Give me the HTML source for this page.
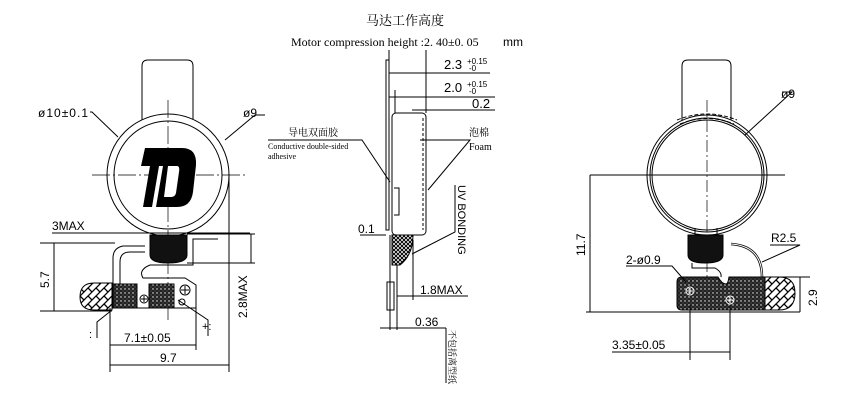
<!DOCTYPE html>
<html><head><meta charset="utf-8"><style>
html,body{margin:0;padding:0;background:#fff;}
svg{display:block;}
text{font-family:"Liberation Sans","Noto Sans CJK SC",sans-serif;fill:#000;}
.s{font-family:"Liberation Serif","Noto Serif CJK SC",serif;}
</style></head><body>
<svg width="850" height="402" viewBox="0 0 850 402" xmlns="http://www.w3.org/2000/svg">
<defs>
<pattern id="dots" width="4" height="4" patternUnits="userSpaceOnUse">
<rect width="4" height="4" fill="#222"/><circle cx="1" cy="1" r="0.7" fill="#fff"/><circle cx="3" cy="3" r="0.5" fill="#888"/>
</pattern>
<pattern id="hatch" width="8" height="8" patternUnits="userSpaceOnUse">
<rect width="8" height="8" fill="#fff"/><path d="M0,8 L8,0 M-2,2 L2,-2 M6,10 L10,6" stroke="#000" stroke-width="1.3"/><path d="M0,0 L4,4" stroke="#000" stroke-width="1.3"/>
</pattern>
<pattern id="xh" width="4" height="4" patternUnits="userSpaceOnUse">
<rect width="4" height="4" fill="#fff"/><path d="M0,4 L4,0 M0,0 L4,4" stroke="#000" stroke-width="1"/>
</pattern>
</defs>
<g fill="none" stroke="#000" stroke-width="1">
<!-- LEFT VIEW -->
<path d="M142,122 L142,66 Q142,60 148,60 L187,60 Q193,60 193,66 L193,122"/>
<circle cx="168" cy="175" r="61" fill="#fff"/>
<circle cx="168" cy="175" r="54"/>
<path d="M92,175 L248,175 M168,100 L168,320" stroke-dasharray="18,3,2,3" stroke-width="0.7"/>
<path d="M150,235 L187,235 L187,255 Q187,263 168,263 Q150,263 150,255 Z" fill="#111"/>
<path d="M113,308 L113,258 Q113,248 123,246 L145,246 M120,300 L120,262 Q120,252 130,252 L145,252" />
<path d="M113,308 L196,308 L196,285 L185,278 L143,278 Q138,270 150,265 L193,265 L193,239 L218,239"/>
<rect x="113" y="284" width="24" height="24" fill="url(#dots)"/>
<rect x="149" y="284" width="25" height="24" fill="url(#dots)"/>
<circle cx="144" cy="299" r="4"/><path d="M141,299h6M144,296v6"/>
<circle cx="185" cy="290" r="5"/><path d="M181,290h8M185,286v8"/>
<circle cx="182" cy="302" r="3"/>
<path d="M80,297 Q80,283 94,283 L112,283 L112,310 L94,310 Q80,310 80,297 Z" fill="url(#hatch)"/>
<!-- left dims -->
<path d="M52,233 L250,233 M40,243 L115,243 M40,311 L112,311 M54,243 L54,311"/>
<path d="M187,234 L255,234 M187,263 L255,263 M251,234 L251,263"/>
<path d="M229,175 L229,372 M110,308 L110,372 M196,300 L196,350 M110,345 L196,345 M110,365 L229,365"/>
<path d="M90,112 L92,112 L118,137 M225,140 L255,115 L265,115"/>
<path d="M112,310 L97,322 L97,338 M178,300 L208,320 L208,336"/>
</g>
<text x="38" y="117" font-size="12" textLength="50">ø10±0.1</text>
<text x="243" y="117" font-size="12">ø9</text>
<text x="52" y="230" font-size="12">3MAX</text>
<text x="49" y="288" font-size="12" transform="rotate(-90 49 288)">5.7</text>
<text x="247" y="318" font-size="12" transform="rotate(-90 247 318)">2.8MAX</text>
<text x="124" y="342" font-size="12">7.1±0.05</text>
<text x="160" y="362" font-size="12">9.7</text>
<text x="89" y="338" font-size="11">:</text>
<text x="202" y="330" font-size="11">+:</text>
<!-- D logo -->
<path d="M145,148 L182,148 Q197,148 196,165 L193,192 Q191,207 177,207 L143,207 L150,166 L141,166 Z" fill="#000"/>
<path d="M159,166 L163,166 L156,207 L152,207 Z" fill="#fff"/>
<path d="M168,166 L177,166 Q180,166 179,172 L176,193 Q175,197 171,197 L164,197 Z" fill="#fff"/>

<!-- MIDDLE VIEW -->
<g fill="none" stroke="#000" stroke-width="1">
<path d="M386,60 L386,230 L389,230 L389,60 Z"/>
<rect x="392" y="113" width="34" height="122" rx="4" fill="#fff"/>
<path d="M423,118 L423,230" stroke-dasharray="3,2"/>
<path d="M394,188 L399,188 L399,215 L394,215"/>
<path d="M389,50 L389,75 M426,50 L426,113 M389,73 L490,73 M389,97 L495,97 M395,90 L395,113 M412,110 L495,110 M426,97 L426,113"/>
<path d="M392,235 L413,235 Q413,255 400,265 L392,265 Z" fill="url(#xh)"/>
<path d="M390,235 L390,330 M397,265 L397,330 M387,282 L394,282 L394,310 L387,310 Z"/>
<path d="M413,240 L413,300 M397,296 L468,296 M380,328 L446,328 M446,328 L446,383"/>
<path d="M360,235 L386,235 M268,140 L362,140 L390,182 M420,140 L470,140 L428,190"/>
<path d="M455,185 L455,232 L412,254"/>
</g>
<text x="405" y="25" font-size="13" class="s" text-anchor="middle">马达工作高度</text>
<text x="291" y="46" font-size="12" class="s">Motor compression height :2. 40±0. 05</text>
<text x="503" y="46" font-size="12">mm</text>
<text x="444" y="69" font-size="13">2.3</text><text x="467" y="64" font-size="8">+0.15</text><text x="469" y="71" font-size="8">-0</text>
<text x="444" y="92" font-size="13">2.0</text><text x="467" y="87" font-size="8">+0.15</text><text x="469" y="94" font-size="8">-0</text>
<text x="472" y="108" font-size="13">0.2</text>
<text x="288" y="136" font-size="10" class="s">导电双面胶</text>
<text x="268" y="149" font-size="8" class="s">Conductive double-sided</text>
<text x="268" y="159" font-size="8" class="s">adhesive</text>
<text x="469" y="136" font-size="10" class="s">泡棉</text>
<text x="469" y="150" font-size="10" class="s">Foam</text>
<text x="358" y="233" font-size="12">0.1</text>
<text x="458" y="185" font-size="11" transform="rotate(90 458 185)">UV    BONDING</text>
<text x="420" y="294" font-size="12">1.8MAX</text>
<text x="415" y="326" font-size="12">0.36</text>
<text x="449" y="330" font-size="9" class="s" transform="rotate(90 449 330)">不包括离型纸</text>

<!-- RIGHT VIEW -->
<g fill="none" stroke="#000" stroke-width="1">
<path d="M682,122 L682,66 Q682,60 688,60 L725,60 Q731,60 731,66 L731,122"/>
<circle cx="707" cy="175" r="60" fill="#fff"/>
<circle cx="707" cy="175" r="57"/>
<circle cx="707" cy="175" r="55"/>
<path d="M677,120 Q707,108 737,120 M680,124 Q707,113 734,124" stroke-dasharray="4,2"/>
<path d="M707,100 L707,310" stroke-dasharray="12,3,2,3" stroke-width="0.7"/>
<path d="M590,175 L785,175"/>
<path d="M695,228 L695,238 M717,228 L717,238"/>
<path d="M688,235 L723,235 L723,255 Q723,263 705,263 Q688,263 688,255 Z" fill="#111"/>
<path d="M692,263 L692,268 L715,268 Q722,272 721,277"/>
<path d="M731,244 Q762,246 762,277" stroke-width="2.5"/>
<path d="M731,244 Q762,246 762,277" stroke="#fff" stroke-width="1"/>
<path d="M682,277 L718,277 Q722,284 726,284 Q728,284 729,277 L765,277 L765,310 L682,310 Q677,310 677,305 L677,282 Q677,277 682,277 Z" fill="url(#dots)"/>
<path d="M765,277 L779,277 Q795,277 795,293 Q795,310 779,310 L765,310 Z" fill="url(#hatch)"/>
<circle cx="690" cy="291" r="4" stroke="#fff"/><path d="M687,291h6M690,288v6" stroke="#fff"/>
<circle cx="730" cy="300" r="4" stroke="#fff"/><path d="M727,300h6M730,297v6" stroke="#fff"/>
<path d="M586,312 L800,312 M590,175 L590,312 M765,277 L810,277 M800,277 L800,312"/>
<path d="M690,305 L690,360 M730,305 L730,360 M612,352 L730,352"/>
<path d="M626,266 L672,266 L686,282 M782,92 L792,92 L745,135 M770,245 L800,245 L762,262"/>
</g>
<text x="585" y="256" font-size="12" transform="rotate(-90 585 256)">11.7</text>
<text x="781" y="98" font-size="12">ø9</text>
<text x="626" y="264" font-size="12">2-ø0.9</text>
<text x="771" y="242" font-size="12">R2.5</text>
<text x="817" y="306" font-size="12" transform="rotate(-90 817 306)">2.9</text>
<text x="612" y="349" font-size="12">3.35±0.05</text>
</svg>
</body></html>
